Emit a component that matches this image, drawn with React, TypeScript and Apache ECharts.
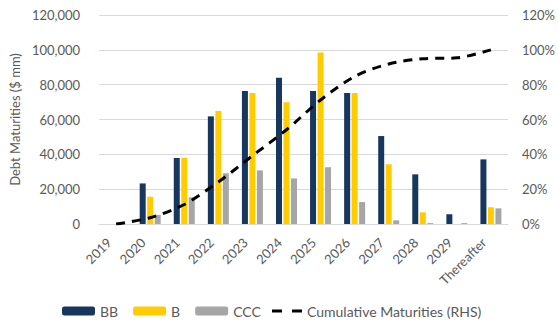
import React, { useEffect, useRef } from "react";
import * as echarts from "echarts";

const categories = ["2019", "2020", "2021", "2022", "2023", "2024", "2025", "2026", "2027", "2028", "2029", "Thereafter"];
const bbValues = [0, 23300, 37900, 61800, 76400, 84000, 76400, 75200, 50500, 28500, 5600, 37100];
const bValues = [0, 15700, 38000, 64900, 75200, 69900, 98400, 75200, 34300, 6700, 0, 9600];
const cccValues = [0, 5200, 15300, 29100, 30800, 26200, 32600, 12600, 2100, 500, 500, 9000];
const cumulativePct = [0, 3.6, 11.2, 24.1, 39.2, 54.1, 71.2, 84.7, 91.9, 94.9, 95.4, 100];
const leftTicks = [0, 20000, 40000, 60000, 80000, 100000, 120000];
const rightTicks = [0, 20, 40, 60, 80, 100, 120];

const FONT = "Lato";
const TXT = "#595959";

export default function App() {
  const ref = useRef<HTMLDivElement>(null);
  useEffect(() => {
    const chart = echarts.init(ref.current!, undefined, { renderer: "svg" });
    const barCommon = { type: "bar", barWidth: 6, barGap: "25%", barCategoryGap: "39%" };
    chart.setOption({
      animation: false,
      textStyle: { fontFamily: FONT, color: TXT },
      grid: { left: 94, right: 49, top: 15, bottom: 98 },
      legend: [
        {
          data: ["BB", "B", "CCC"],
          left: 62,
          top: 304,
          padding: 0,
          itemWidth: 33,
          itemHeight: 9,
          itemGap: 15,
          textStyle: { fontFamily: FONT, fontSize: 14, color: TXT },
        },
        {
          data: [
            {
              name: "Cumulative Maturities (RHS)",
              icon: "path://M0,0h10v3h-10z M20,0h10v3h-10z",
            },
          ],
          left: 272,
          top: 304,
          padding: 0,
          itemWidth: 30,
          itemHeight: 3,
          itemGap: 5,
          textStyle: { fontFamily: FONT, fontSize: 14, color: TXT },
        },
      ],
      xAxis: {
        type: "category",
        data: categories,
        axisTick: { show: false },
        axisLine: { lineStyle: { color: "#d9d9d9", width: 1 } },
        axisLabel: {
          rotate: 45,
          margin: 9,
          padding: [0, 10, 0, 0],
          fontFamily: FONT,
          fontSize: 13,
          color: TXT,
          interval: 0,
        },
      },
      yAxis: [
        {
          type: "value",
          min: leftTicks[0],
          max: leftTicks[leftTicks.length - 1],
          interval: 20000,
          name: "Debt Maturities ($ mm)",
          nameLocation: "middle",
          nameGap: 72,
          nameTextStyle: { fontFamily: FONT, fontSize: 13, color: TXT },
          axisLabel: {
            margin: 19,
            fontFamily: FONT,
            fontSize: 13,
            color: TXT,
            formatter: (v: number) => v.toLocaleString("en-US"),
          },
          splitLine: { lineStyle: { color: "#d9d9d9", width: 1 } },
          axisLine: { show: false },
          axisTick: { show: false },
        },
        {
          type: "value",
          min: rightTicks[0],
          max: rightTicks[rightTicks.length - 1],
          interval: 20,
          position: "right",
          axisLabel: { margin: 14, fontFamily: FONT, fontSize: 13, color: TXT, formatter: "{value}%" },
          splitLine: { show: false },
          axisLine: { show: false },
          axisTick: { show: false },
        },
      ],
      series: [
        { ...barCommon, name: "BB", data: bbValues, itemStyle: { color: "#17375e" } },
        { ...barCommon, name: "B", data: bValues, itemStyle: { color: "#ffcc00" } },
        { ...barCommon, name: "CCC", data: cccValues, itemStyle: { color: "#a6a6a6" } },
        {
          type: "line",
          name: "Cumulative Maturities (RHS)",
          yAxisIndex: 1,
          data: cumulativePct,
          smooth: 0.3,
          symbol: "none",
          lineStyle: { color: "#000000", width: 3, type: [9, 7] },
          itemStyle: { color: "#000000" },
        },
      ],
    });
    return () => chart.dispose();
  }, []);
  return <div ref={ref} style={{ width: 558, height: 322, position: "absolute", left: 0, top: 0 }} />;
}
